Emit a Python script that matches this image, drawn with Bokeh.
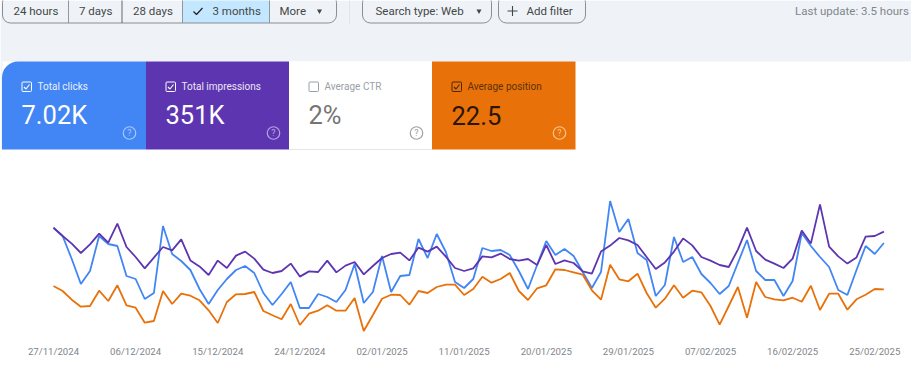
import numpy as np
import pandas as pd
from bokeh.core.properties import value
from bokeh.embed import file_html
from bokeh.models import FixedTicker, LinearAxis, Range1d
from bokeh.plotting import figure
from bokeh.resources import INLINE

# ---- data ----
start_date = "2024-11-27"
clicks = [114,106,83,58,71,106,98,96,66,63,43,49,116,88,81,72,53,38,52,63,72,76,69,49,37,48,60,34,34,48,45,
          40,52,78,39,50,86,50,66,67,103,84,108,90,60,54,63,94,91,92,87,71,53,77,101,87,93,86,70,54,70,
          141,110,123,89,82,46,57,105,80,85,68,59,48,56,79,102,71,62,62,46,61,109,96,85,75,52,47,72,96,88,99]
impressions = [5220,4800,4420,3950,4380,4920,4470,5420,4250,3750,3180,3720,4250,4080,4630,3580,3280,2850,3570,3200,3820,4020,3670,3120,2950,3050,3420,2770,3030,3000,3570,
               2980,3320,3500,2880,3300,3700,3900,3970,3580,4220,4020,4270,3770,3200,3050,3180,3780,3730,3920,3650,3570,3650,3350,4350,3400,3580,3450,3030,2920,4020,
               4320,4700,4580,4350,3750,3150,3480,4020,4680,4330,3750,3570,3350,3250,4120,5220,4050,3620,3420,3200,3670,5070,4430,6380,4270,3780,3420,3730,4770,4800,5020]
position = [21.0,21.5,22.37,23.07,23.0,21.47,22.5,20.93,22.93,23.17,24.67,24.5,21.5,22.8,21.77,21.97,22.43,23.43,24.7,22.6,21.83,21.8,21.6,23.5,23.93,24.33,22.8,24.9,23.77,23.47,22.93,
            23.47,23.47,22.2,25.5,23.9,22.27,21.87,21.9,22.87,21.5,21.7,21.1,20.87,20.87,21.9,21.3,20.07,20.67,20.3,19.7,21.5,22.4,21.23,20.93,19.33,19.4,19.63,19.87,21.43,22.37,
            18.87,20.33,20.53,19.77,21.7,23.17,22.27,20.93,22.17,21.47,21.63,23.0,24.87,23.0,21.1,24.17,20.6,22.1,22.33,22.43,22.17,22.57,20.97,23.4,21.77,21.77,23.37,22.33,21.87,21.3,21.33]
tick_dates = ["2024-11-27","2024-12-06","2024-12-15","2024-12-24","2025-01-02","2025-01-11",
              "2025-01-20","2025-01-29","2025-02-07","2025-02-16","2025-02-25"]
card_labels = ["Total clicks", "Total impressions", "Average CTR", "Average position"]
card_values = ["7.02K", "351K", "2%", "22.5"]
card_checked = [True, True, False, True]
range_buttons = ["24 hours", "7 days", "28 days", "3 months", "More"]

BLUE, PURPLE, ORANGE = "#4285f4", "#5e35b1", "#e8710a"
WIDTH, HEIGHT, FRAME_H = 911, 376, 340


def to_ms(d):
    return (pd.Timestamp(d) - pd.Timestamp(0)) / pd.Timedelta(milliseconds=1)


day_ms = 86400000.0
px_per_day = 9.125
x0_px = 53.0
dates = pd.date_range(start_date, periods=len(clicks))
xs = [to_ms(d) for d in dates]
x_start = to_ms(start_date) - x0_px / px_per_day * day_ms
x_end = x_start + WIDTH / px_per_day * day_ms

p = figure(width=WIDTH, height=HEIGHT, output_backend="svg", toolbar_location=None,
           x_range=Range1d(0, WIDTH), y_range=Range1d(FRAME_H, 0),
           x_axis_location=None, y_axis_location=None,
           min_border=0, min_border_bottom=HEIGHT - FRAME_H,
           outline_line_color=None, background_fill_color="white", border_fill_color="white")
p.margin = (0, 0, 0, 0)
p.grid.visible = False
p.extra_x_ranges = {"date": Range1d(x_start, x_end)}
p.extra_y_ranges = {"clicks": Range1d(1.5, 341.5), "impr": Range1d(-425, 16575), "pos": Range1d(26.45, -7.55)}


def label(x, y, s, size, color, align="left", font="Roboto", style="normal"):
    p.text([x], [y], text=[s], text_font=value(font), text_font_size=f"{size}px", text_color=color,
           text_align=align, text_baseline="middle", text_font_style=style)


# page band and top controls
BG = "#eff3f8"
p.quad(left=[0], right=[WIDTH], top=[0], bottom=[61], fill_color=BG, line_color=None)
p.quad(left=[0], right=[2], top=[61], bottom=[149], fill_color=BG, line_color=None)

TXT = "#444746"
EDGE = "#7f8386"
p.quad(left=[182], right=[269], top=[-6], bottom=[22.5], fill_color="#c2e7ff", line_color=None)
p.quad(left=[2], right=[336], top=[-6], bottom=[22.5], fill_color=None, line_color=EDGE, line_width=0.9, border_radius=8)
for sx, c in zip([68, 121.5, 182, 269], ["#8a8d90", "#55585b", "#8a8d90", "#8a8d90"]):
    p.segment([sx], [-6], [sx], [22.5], line_color=c, line_width=0.9)
for bx, s in zip([13, 78.5, 132.5, 212, 279], range_buttons):
    label(bx, 10.5, s, 11.5, TXT)
p.line([193, 196, 202], [11, 14, 7.5], line_color="#1f1f1f", line_width=1.2)
p.scatter([319], [10.5], marker="inverted_triangle", size=5, fill_color=TXT, line_color=None)

p.segment([349], [-6], [349], [24], line_color="#e2e5ea", line_width=1)
p.quad(left=[362], right=[491], top=[-6], bottom=[22.5], fill_color=None, line_color=EDGE, line_width=0.9, border_radius=8)
label(375, 10.5, "Search type: Web", 11.5, TXT)
p.scatter([478.5], [10.5], marker="inverted_triangle", size=5, fill_color=TXT, line_color=None)
p.quad(left=[498], right=[585], top=[-6], bottom=[22.5], fill_color=None, line_color=EDGE, line_width=0.9, border_radius=8)
p.segment([512, 507], [5.5, 10.5], [512, 517], [15.5, 10.5], line_color=TXT, line_width=1.1)
label(526, 10.5, "Add filter", 11.5, TXT)
label(794.5, 10.5, "Last update: 3.5 hours", 11.5, "#80868b")

# score cards
card_left = [1.5, 145.5, 288.5, 431.5]
card_right = [145.5, 288.5, 431.5, 575]
card_fill = [BLUE, PURPLE, "white", ORANGE]
title_col = ["#e8f0fe", "#ece6f6", "#9aa0a6", "#5d3204"]
value_col = ["white", "white", "#757575", "#2b1503"]
box_col = ["white", "white", "#9aa0a6", "#4a2803"]
help_col = ["#a9c8fa", "#b6a4dd", "#9e9e9e", "#f7c68f"]
for i in range(4):
    p.quad(left=[card_left[i]], right=[card_right[i]], top=[61], bottom=[149], fill_color=card_fill[i],
           line_color=None, border_radius=(16, 0, 0, 0) if i == 0 else 0)
    bx = card_left[i] + 20
    p.quad(left=[bx], right=[bx + 9.5], top=[81.5], bottom=[91], fill_color=None, line_color=box_col[i],
           line_width=1, border_radius=1)
    if card_checked[i]:
        p.line([bx + 2, bx + 4, bx + 7.5], [86.5, 88.5, 84], line_color=box_col[i], line_width=1.1)
    label(bx + 15.5, 86.3, card_labels[i], 10, title_col[i])
    label(bx - 0.5, 114.5, card_values[i], 25.5, value_col[i])
    hx = card_left[i] + 127.5
    p.scatter([hx], [132.5], marker="circle", size=12.5, fill_color=None, line_color=help_col[i], line_width=1.2)
    label(hx, 132.7, "?", 9, help_col[i], align="center")
p.segment([288.5], [149], [431.5], [149], line_color="#e6e6e6", line_width=1)

# chart lines
p.line(xs, clicks, x_range_name="date", y_range_name="clicks", line_color=BLUE, line_width=1.8)
p.line(xs, impressions, x_range_name="date", y_range_name="impr", line_color=PURPLE, line_width=1.8)
p.line(xs, position, x_range_name="date", y_range_name="pos", line_color=ORANGE, line_width=1.8)

tick_ms = [to_ms(d) for d in tick_dates]
axis = LinearAxis(x_range_name="date", ticker=FixedTicker(ticks=tick_ms),
                  major_label_overrides={t: pd.Timestamp(d).strftime("%d/%m/%Y") for t, d in zip(tick_ms, tick_dates)},
                  axis_line_color=None, major_tick_line_color=None, minor_tick_line_color=None,
                  major_tick_in=0, major_tick_out=0, major_label_standoff=5,
                  major_label_text_font="Roboto", major_label_text_font_size="9.6px",
                  major_label_text_color="#80868b")
p.add_layout(axis, "below")

open("out.html", "w").write(file_html(p, INLINE))
